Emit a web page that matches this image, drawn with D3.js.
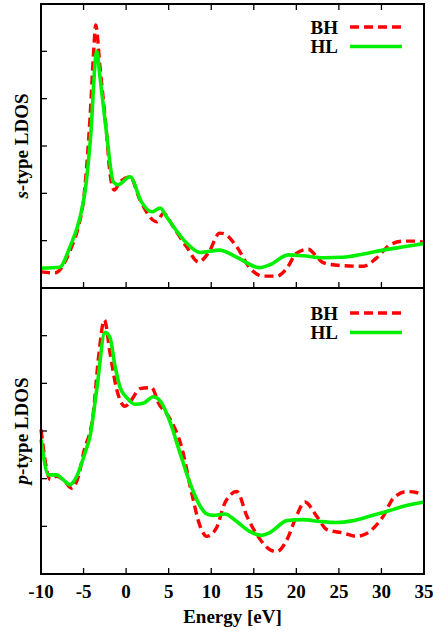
<!DOCTYPE html>
<html>
<head>
<meta charset="utf-8"/>
<script src="https://d3js.org/d3.v7.min.js"></script>
<style>
  body { margin: 0; background: #fff; }
  text { font-family: "Liberation Serif", "Times New Roman", serif; font-weight: bold; }
</style>
</head>
<body>
<div id="chart"></div>
<script>
// energy grid points for each curve [eV] and LDOS values (arb. units)
var sBH_E = [-10, -8.4, -6.4, -5.6, -5.0, -4.24, -3.85, -3.57, -3.07, -2.3, -1.9, -1.39, -0.72, 0.46, 1.63, 3.6, 4.4, 5.55, 7.1, 8.5, 9.7, 11.0, 11.6, 13.0, 14.56, 16.1, 17.7, 18.9, 20.0, 21.4, 22.4, 23.2, 25.5, 27.9, 29.4, 31.0, 32.6, 34.1, 35];
var sBH   = [0.34, 0.32, 0.87, 1.3, 1.86, 3.6, 4.88, 5.56, 4.67, 3.27, 2.43, 2.07, 2.24, 2.35, 1.86, 1.40, 1.58, 1.29, 0.87, 0.55, 0.75, 1.16, 1.14, 0.87, 0.42, 0.25, 0.25, 0.42, 0.73, 0.82, 0.66, 0.53, 0.47, 0.46, 0.63, 0.91, 0.99, 0.99, 0.96];

var sHL_E = [-10, -7.8, -6.6, -5.4, -4.8, -4.2, -3.45, -3.07, -2.3, -1.5, -0.95, 0.46, 1.8, 3.0, 4.0, 4.77, 7.1, 8.68, 11.0, 13.0, 15.7, 16.9, 19.06, 20.8, 23.2, 25.5, 27.9, 30.2, 32.6, 35];
var sHL   = [0.42, 0.44, 0.87, 1.5, 2.07, 3.13, 5.0, 4.46, 3.27, 2.24, 2.18, 2.35, 1.82, 1.61, 1.69, 1.5, 0.95, 0.75, 0.80, 0.65, 0.43, 0.49, 0.70, 0.68, 0.64, 0.65, 0.72, 0.80, 0.87, 0.94];

var pBH_E = [-10, -8.9, -8.2, -7.4, -6.4, -5.6, -5.0, -3.85, -3.27, -2.55, -1.9, -1.1, -0.13, 0.65, 1.63, 3.0, 3.8, 5.2, 6.5, 7.7, 8.7, 9.47, 10.6, 11.6, 13.0, 14.2, 15.5, 16.9, 17.7, 18.9, 20.0, 21.0, 22.4, 23.6, 25.5, 27.1, 28.6, 30.2, 31.4, 33.0, 34.1, 35];
var pBH   = [3.03, 1.98, 2.05, 1.98, 1.80, 2.05, 2.54, 3.38, 4.5, 5.33, 4.65, 3.87, 3.52, 3.66, 3.89, 3.91, 3.59, 3.24, 2.68, 1.70, 1.0, 0.79, 0.96, 1.49, 1.73, 1.21, 0.79, 0.51, 0.47, 0.72, 1.21, 1.51, 1.21, 0.93, 0.86, 0.79, 0.89, 1.21, 1.59, 1.73, 1.71, 1.66];

var pHL_E = [-10, -9.1, -8.2, -7.4, -6.6, -5.8, -4.83, -4.24, -3.45, -2.48, -1.9, -1.3, -0.7, 0.07, 1.05, 2.0, 3.2, 4.0, 5.2, 6.33, 7.5, 8.3, 9.47, 10.25, 11.6, 13.0, 14.56, 15.9, 16.9, 18.9, 20.8, 22.8, 24.7, 26.7, 28.6, 30.6, 32.6, 35];
var pHL   = [2.82, 2.08, 2.08, 1.98, 1.87, 2.05, 2.54, 2.89, 3.87, 5.07, 4.96, 4.36, 3.91, 3.70, 3.56, 3.58, 3.72, 3.63, 3.17, 2.54, 1.91, 1.56, 1.26, 1.23, 1.26, 1.10, 0.89, 0.81, 0.87, 1.12, 1.14, 1.10, 1.08, 1.12, 1.21, 1.31, 1.42, 1.51];

var xTicks = [-10, -5, 0, 5, 10, 15, 20, 25, 30, 35];
var yTicks = [0, 1, 2, 3, 4, 5, 6];
var seriesNames = ["BH", "HL"];

var W = 433, H = 631;
var left = 41, right = 424;
var red = "#ff0000", green = "#00f000";

var svg = d3.select("#chart").append("svg")
    .attr("width", W).attr("height", H);

var x = d3.scaleLinear().domain([-10, 35]).range([left, right]);

function zip(es, vs) {
    return es.map(function(e, i) { return [e, vs[i]]; });
}

var panels = [
    { top: 4, bottom: 288, label: "s", bh: zip(sBH_E, sBH), hl: zip(sHL_E, sHL), topTicks: true, legendY: 27 },
    { top: 288, bottom: 574, label: "p", bh: zip(pBH_E, pBH), hl: zip(pHL_E, pHL), topTicks: false, legendY: 313 }
];

panels.forEach(function(p) {
    var y = d3.scaleLinear().domain([0, 6]).range([p.bottom, p.top]);
    var g = svg.append("g");

    var line = d3.line()
        .x(function(d) { return x(d[0]); })
        .y(function(d) { return y(d[1]); })
        .curve(d3.curveMonotoneX);

    // BH first, HL over it (gnuplot order)
    g.append("path").datum(p.bh)
        .attr("d", line)
        .attr("fill", "none")
        .attr("stroke", red)
        .attr("stroke-width", 3.4)
        .attr("stroke-dasharray", "9,5");
    g.append("path").datum(p.hl)
        .attr("d", line)
        .attr("fill", "none")
        .attr("stroke", green)
        .attr("stroke-width", 3.6)
        .attr("stroke-linejoin", "round");

    // ticks, pointing inward
    g.selectAll(".xb").data(xTicks).enter().append("line")
        .attr("x1", function(d) { return x(d); }).attr("x2", function(d) { return x(d); })
        .attr("y1", p.bottom).attr("y2", p.bottom - 6)
        .attr("stroke", "#000").attr("stroke-width", 1.3);
    if (p.topTicks) {
        g.selectAll(".xt").data(xTicks).enter().append("line")
            .attr("x1", function(d) { return x(d); }).attr("x2", function(d) { return x(d); })
            .attr("y1", p.top).attr("y2", p.top + 6)
            .attr("stroke", "#000").attr("stroke-width", 1.3);
    }
    g.selectAll(".yl").data(yTicks).enter().append("line")
        .attr("x1", left).attr("x2", left + 6)
        .attr("y1", function(d) { return y(d); }).attr("y2", function(d) { return y(d); })
        .attr("stroke", "#000").attr("stroke-width", 1.3);

    // frame
    g.append("rect")
        .attr("x", left).attr("y", p.top)
        .attr("width", right - left).attr("height", p.bottom - p.top)
        .attr("fill", "none").attr("stroke", "#000").attr("stroke-width", 2);

    // y label
    var cy = (p.top + p.bottom) / 2;
    var yl = g.append("text")
        .attr("transform", "translate(28," + cy + ") rotate(-90)")
        .attr("text-anchor", "middle")
        .attr("font-size", 19);
    yl.append("tspan").attr("font-style", "italic").text(p.label);
    yl.append("tspan").text("-type LDOS");

    // legend
    seriesNames.forEach(function(name, i) {
        var ly = p.legendY + i * 19.5;
        g.append("text")
            .attr("x", 338).attr("y", ly + 6.5)
            .attr("text-anchor", "end")
            .attr("font-size", 19)
            .text(name);
        g.append("line")
            .attr("x1", 350).attr("x2", 402)
            .attr("y1", ly).attr("y2", ly)
            .attr("stroke", i === 0 ? red : green)
            .attr("stroke-width", 3.4)
            .attr("stroke-dasharray", i === 0 ? "9,5" : null);
    });
});

// x tick labels on the lower panel
svg.selectAll(".xlab").data(xTicks).enter().append("text")
    .attr("x", function(d) { return x(d); })
    .attr("y", 598)
    .attr("text-anchor", "middle")
    .attr("font-size", 19)
    .text(function(d) { return d; });

svg.append("text")
    .attr("x", (left + right) / 2)
    .attr("y", 623)
    .attr("text-anchor", "middle")
    .attr("font-size", 19)
    .text("Energy [eV]");
</script>
</body>
</html>
